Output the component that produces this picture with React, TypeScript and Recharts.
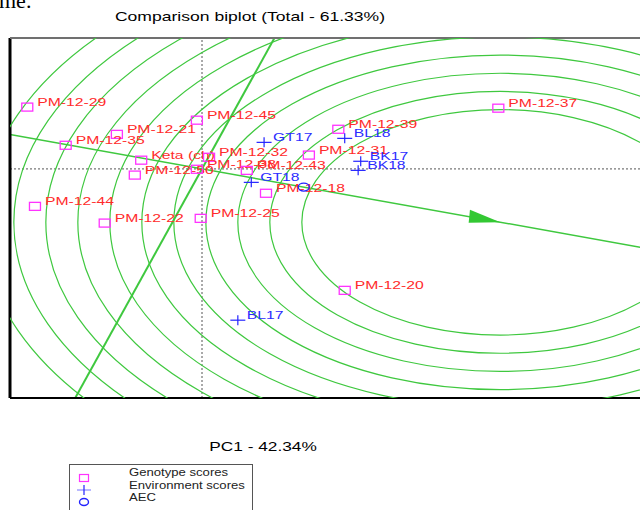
import React from "react";
import { ScatterChart, Scatter, XAxis, YAxis, ReferenceLine } from "recharts";

// genotype scores (PC1, PC2)
const genotypeNames = [
  "PM-12-29", "PM-12-21", "PM-12-35", "PM-12-45", "Keta (ch)", "PM-12-32",
  "PM-12-50", "PM-12-38", "PM-12-43", "PM-12-44", "PM-12-22", "PM-12-25",
  "PM-12-18", "PM-12-31", "PM-12-39", "PM-12-37", "PM-12-20",
];
const genotypePC1 = [-2.73, -1.33, -2.13, -0.08, -0.95, 0.11, -1.05, -0.08, 0.7, -2.61, -1.52, -0.02, 1.0, 1.67, 2.13, 4.63, 2.23];
const genotypePC2 = [1.7, 0.95, 0.65, 1.34, 0.24, 0.32, -0.17, -0.01, -0.04, -1.03, -1.49, -1.36, -0.67, 0.38, 1.09, 1.67, -3.34];

// environment scores
const envNames = ["GT17", "BL18", "BK17", "BK18", "GT18", "BL17"];
const envPC1 = [0.97, 2.23, 2.48, 2.44, 0.77, 0.56];
const envPC2 = [0.73, 0.84, 0.21, -0.04, -0.37, -4.16];

// average environment coordinate and ideal genotype
const aecPC1 = 1.59;
const aecPC2 = -0.5;
const idealPC1 = 4.66;
const idealPC2 = -1.47;
const ringRadii = [3.1, 3.6, 4.1, 4.6, 5.1, 5.6, 6.1, 6.6, 7.1, 7.6, 8.1];

const X_MIN = -3;
const X_MAX = 7.5;
const Y_MIN = -6.3;
const Y_MAX = 3.6;
const CHART_W = 700;
const CHART_H = 510;
const margin = { top: 38, right: 18, bottom: 112, left: 10 };
const SX = (CHART_W - margin.left - margin.right) / (X_MAX - X_MIN);
const SY = (CHART_H - margin.top - margin.bottom) / (Y_MAX - Y_MIN);

const FONT = "'Liberation Sans', Arial, sans-serif";
const GREEN = "#3fc83f";

const genotypes = genotypeNames.map((name, i) => ({ name, x: genotypePC1[i], y: genotypePC2[i] }));
const environments = envNames.map((name, i) => ({ name, x: envPC1[i], y: envPC2[i] }));
const aec = [{ name: "AEC", x: aecPC1, y: aecPC2 }];
const ideal = [{ name: "ideal", x: idealPC1, y: idealPC2 }];

const slope = aecPC2 / aecPC1;

function Label({ x, y, text, color, size = 11, stretch = 1.43 }: any) {
  return (
    <text transform={`translate(${x},${y}) scale(${stretch},1)`} fontSize={size} fill={color} fontFamily={FONT}>
      {text}
    </text>
  );
}

const GenotypeShape = (props: any) => {
  const { cx, cy, payload } = props;
  return (
    <g>
      <rect x={cx - 5.5} y={cy - 4} width={11} height={8} fill="none" stroke="#ff33ff" strokeWidth={1.3} />
      <Label x={cx + 10} y={cy - 1} text={payload.name} color="#ff2b2b" />
    </g>
  );
};

const EnvShape = (props: any) => {
  const { cx, cy, payload } = props;
  return (
    <g>
      <line x1={cx - 7.5} x2={cx + 7.5} y1={cy} y2={cy} stroke="#2323ff" strokeWidth={1.2} />
      <line x1={cx} x2={cx} y1={cy - 5} y2={cy + 5} stroke="#2323ff" strokeWidth={1.2} />
      <Label x={cx + 9} y={cy - 1} text={payload.name} color="#2b2bff" />
    </g>
  );
};

const AecShape = (props: any) => (
  <ellipse cx={props.cx} cy={props.cy} rx={5.5} ry={4} fill="none" stroke="#2323ff" strokeWidth={1.4} />
);

const RingShape = (props: any) => {
  const { cx, cy } = props;
  const angle = (Math.atan2(-slope * SY, SX) * 180) / Math.PI;
  return (
    <g>
      {ringRadii.map((r) => (
        <ellipse key={r} cx={cx} cy={cy} rx={r * SX} ry={r * SY} fill="none" stroke={GREEN} strokeWidth={1.2} />
      ))}
      <polygon
        points="0,0 -32,-7 -31,6"
        transform={`translate(${cx},${cy}) rotate(${angle})`}
        fill="#33c833"
      />
    </g>
  );
};

export default function App() {
  return (
    <div style={{ position: "absolute", left: 0, top: 0, width: 640, height: 510, overflow: "hidden", background: "#fff" }}>
      <ScatterChart width={CHART_W} height={CHART_H} margin={margin}>
        <XAxis type="number" dataKey="x" domain={[X_MIN, X_MAX]} allowDataOverflow hide />
        <YAxis type="number" dataKey="y" domain={[Y_MIN, Y_MAX]} allowDataOverflow hide />
        <Scatter data={ideal} shape={RingShape} isAnimationActive={false} />
        <ReferenceLine x={0} stroke="#555" strokeDasharray="2 2" />
        <ReferenceLine y={0} stroke="#555" strokeDasharray="2 2" />
        <ReferenceLine
          segment={[{ x: X_MIN, y: X_MIN * slope }, { x: X_MAX, y: X_MAX * slope }]}
          stroke={GREEN}
          strokeWidth={1.5}
          ifOverflow="hidden"
        />
        <ReferenceLine
          segment={[{ x: -Y_MIN * slope, y: Y_MIN }, { x: -Y_MAX * slope, y: Y_MAX }]}
          stroke={GREEN}
          strokeWidth={2}
          ifOverflow="hidden"
        />
        <ReferenceLine x={X_MIN} stroke="#000" strokeWidth={3} />
        <ReferenceLine y={Y_MAX} stroke="#707070" strokeWidth={2} />
        <ReferenceLine y={Y_MIN} stroke="#000" strokeWidth={2} />
        <Scatter data={genotypes} shape={GenotypeShape} isAnimationActive={false} />
        <Scatter data={environments} shape={EnvShape} isAnimationActive={false} />
        <Scatter data={aec} shape={AecShape} isAnimationActive={false} />
      </ScatterChart>
      <svg width={640} height={510} style={{ position: "absolute", left: 0, top: 0, pointerEvents: "none" }}>
        <text x={-1} y={8} fontSize={22} fontFamily="'Liberation Serif', serif">me.</text>
        <text transform="translate(250,21) scale(1.35,1)" textAnchor="middle" fontSize={13} fontFamily={FONT}>
          Comparison biplot (Total - 61.33%)
        </text>
        <text transform="translate(263,451) scale(1.33,1)" textAnchor="middle" fontSize={13} fontFamily={FONT}>
          PC1 - 42.34%
        </text>
        <rect x={69.5} y={464.5} width={183} height={60} fill="#fff" stroke="#555" />
        <rect x={79.5} y={474.5} width={9} height={7} fill="none" stroke="#ff33ff" strokeWidth={1.2} />
        <line x1={77} x2={91} y1={490} y2={490} stroke="#8a8aff" strokeWidth={1.2} />
        <line x1={84} x2={84} y1={485} y2={495} stroke="#2323ff" strokeWidth={1.2} />
        <ellipse cx={84} cy={502} rx={4.5} ry={3.5} fill="none" stroke="#2323ff" strokeWidth={1.4} />
        <Label x={129} y={476} text="Genotype scores" color="#222" size={10.5} stretch={1.25} />
        <Label x={129} y={489} text="Environment scores" color="#222" size={10.5} stretch={1.25} />
        <Label x={129} y={501} text="AEC" color="#222" size={10.5} stretch={1.25} />
      </svg>
    </div>
  );
}
